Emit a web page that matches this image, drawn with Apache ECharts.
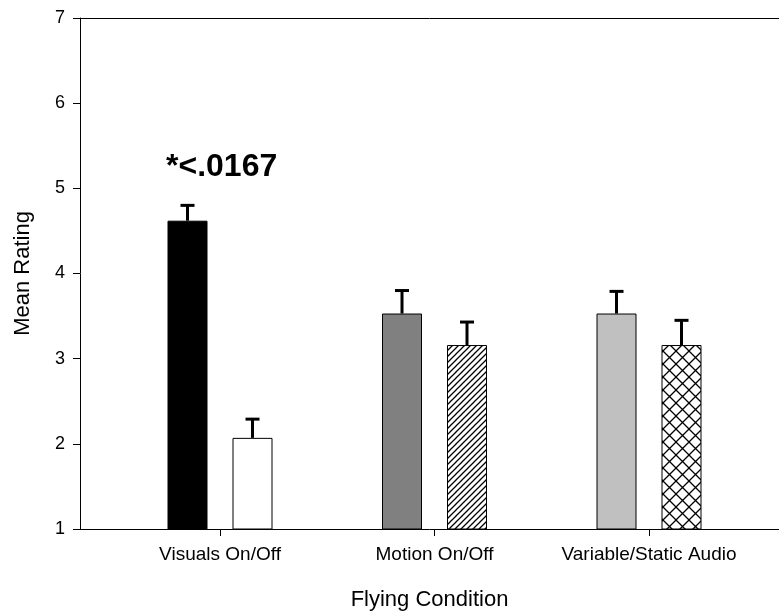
<!DOCTYPE html>
<html><head><meta charset="utf-8">
<script src="https://cdn.jsdelivr.net/npm/echarts@6/dist/echarts.min.js"></script>
<style>html,body{margin:0;padding:0;background:#fff}#c{width:779px;height:616px}</style>
</head><body><div id="c"></div>
<script>
// ---- data ----
const categories = ['Visuals On/Off', 'Motion On/Off', 'Variable/Static Audio'];
const categoryPositions = [1, 2, 3];
const firstMeans = [4.62, 3.53, 3.53];
const firstErrors = [0.18, 0.27, 0.26];
const secondMeans = [2.07, 3.16, 3.16];
const secondErrors = [0.22, 0.27, 0.29];
const yTicks = [1, 2, 3, 4, 5, 6, 7];
const annotationText = '*<.0167';

// ---- patterns ----
function hatchPattern() {
  const s = 6, c = document.createElement('canvas');
  c.width = s; c.height = s;
  const g = c.getContext('2d');
  g.fillStyle = '#fff'; g.fillRect(0, 0, s, s);
  g.strokeStyle = '#000'; g.lineWidth = 1.3;
  g.beginPath();
  g.moveTo(-1, s + 1); g.lineTo(s + 1, -1);
  g.moveTo(-1, 1); g.lineTo(1, -1);
  g.moveTo(s - 1, s + 1); g.lineTo(s + 1, s - 1);
  g.stroke();
  return { image: c, repeat: 'repeat' };
}
function crossPattern() {
  const s = 13, c = document.createElement('canvas');
  c.width = s; c.height = s;
  const g = c.getContext('2d');
  g.fillStyle = '#fff'; g.fillRect(0, 0, s, s);
  g.strokeStyle = '#000'; g.lineWidth = 1.3;
  g.beginPath();
  g.moveTo(0, 0); g.lineTo(s, s);
  g.moveTo(s, 0); g.lineTo(0, s);
  g.stroke();
  return { image: c, repeat: 'repeat' };
}

const firstColors = ['#000000', '#808080', '#c0c0c0'];
const secondColors = ['#ffffff', hatchPattern(), crossPattern()];

const barWidth = 40;
const barGapPx = 25;
const halfOffset = (barWidth + barGapPx) / 2;

function errRender(offset) {
  return function (params, api) {
    const x = api.value(0), m = api.value(1), e = api.value(2);
    const base = api.coord([x, m]);
    const top = api.coord([x, m + e]);
    const cx = base[0] + offset;
    return {
      type: 'group',
      children: [
        { type: 'line', shape: { x1: cx, y1: base[1], x2: cx, y2: top[1] }, style: { stroke: '#000', lineWidth: 3 } },
        { type: 'line', shape: { x1: cx - 7, y1: top[1], x2: cx + 7, y2: top[1] }, style: { stroke: '#000', lineWidth: 3 } }
      ]
    };
  };
}

const xMin = 0.3473, xMax = 3.606;
const font = 'Liberation Sans, Arial, sans-serif';

const chart = echarts.init(document.getElementById('c'), null, { renderer: 'canvas' });
chart.setOption({
  animation: false,
  backgroundColor: '#fff',
  grid: { left: 80, top: 18, right: 0, bottom: 86 },
  xAxis: [{
    type: 'value', min: xMin, max: xMax, position: 'bottom',
    splitLine: { show: false },
    axisLine: { show: true, lineStyle: { color: '#000', width: 1 } },
    axisTick: { show: true, customValues: categoryPositions, length: 7, lineStyle: { color: '#000' } },
    axisLabel: {
      customValues: categoryPositions, margin: 16, color: '#000', fontSize: 19, fontFamily: font,
      formatter: v => categories[categoryPositions.indexOf(Math.round(v))] || ''
    },
    name: 'Flying Condition', nameLocation: 'middle', nameGap: 60,
    nameTextStyle: { color: '#000', fontSize: 22, fontFamily: font }
  }, {
    type: 'value', min: xMin, max: xMax, position: 'top',
    splitLine: { show: false },
    axisLine: { show: true, onZero: false, lineStyle: { color: '#000', width: 1 } },
    axisTick: { show: false }, axisLabel: { show: false }
  }],
  yAxis: {
    type: 'value', min: yTicks[0], max: yTicks[yTicks.length - 1], interval: 1,
    splitLine: { show: false },
    axisLine: { show: true, lineStyle: { color: '#000', width: 1 } },
    axisTick: { show: true, length: 7, lineStyle: { color: '#000' } },
    axisLabel: { color: '#000', fontSize: 18, fontFamily: font, margin: 15 },
    name: 'Mean Rating', nameLocation: 'middle', nameGap: 46,
    nameTextStyle: { color: '#000', fontSize: 22, fontFamily: font }
  },
  series: [{
    type: 'bar', xAxisIndex: 0, barWidth: barWidth, barGap: (barGapPx / barWidth * 100) + '%',
    data: categoryPositions.map((x, i) => ({
      value: [x, firstMeans[i]],
      itemStyle: { color: firstColors[i], borderColor: '#000', borderWidth: 1 }
    }))
  }, {
    type: 'bar', xAxisIndex: 0, barWidth: barWidth, barGap: (barGapPx / barWidth * 100) + '%',
    data: categoryPositions.map((x, i) => ({
      value: [x, secondMeans[i]],
      itemStyle: { color: secondColors[i], borderColor: '#000', borderWidth: 1 }
    }))
  }, {
    type: 'custom', xAxisIndex: 0, renderItem: errRender(-halfOffset), z: 3,
    data: categoryPositions.map((x, i) => [x, firstMeans[i], firstErrors[i]])
  }, {
    type: 'custom', xAxisIndex: 0, renderItem: errRender(halfOffset), z: 3,
    data: categoryPositions.map((x, i) => [x, secondMeans[i], secondErrors[i]])
  }],
  graphic: [{
    type: 'text', left: 166, top: 151,
    style: { text: annotationText, fill: '#000', font: 'bold 32px ' + font }
  }]
});
</script>
</body></html>
